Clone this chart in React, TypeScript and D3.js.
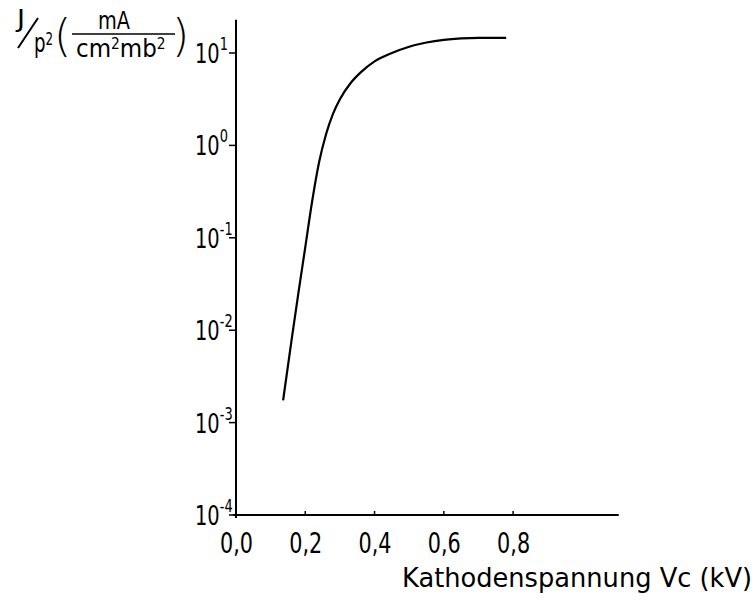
import React from "react";
import * as d3 from "d3";

// Kathodenspannung Vc (kV)
const voltage = [0.136, 0.16, 0.18, 0.2, 0.22, 0.24, 0.26, 0.28, 0.3, 0.33, 0.36, 0.4, 0.45, 0.5, 0.55, 0.6, 0.65, 0.7, 0.78];
// J/p^2 (mA / cm^2 mb^2)
const current = [0.00174, 0.0076, 0.025, 0.079, 0.25, 0.66, 1.32, 2.19, 3.16, 4.68, 6.17, 8.13, 10.0, 11.7, 13.0, 13.9, 14.4, 14.6, 14.6];

const xTicks = [0, 0.2, 0.4, 0.6, 0.8];
const xTickLabels = ["0,0", "0,2", "0,4", "0,6", "0,8"];
const yExponents = [1, 0, -1, -2, -3, -4];

const W = 756;
const H = 603;
const FONT = "'DejaVu Sans', 'Liberation Sans', sans-serif";

export default function App() {
  const x = d3.scaleLinear().domain([0, 1.1]).range([236, 617]);
  const y = d3.scaleLog().domain([1e-4, 10]).range([515, 53]);
  const yTop = y(10 ** 1.36);
  const xEnd = x(1.105);

  const pts: [number, number][] = voltage.map((v, i) => [v, current[i]]);
  const line = d3
    .line<[number, number]>()
    .x((d) => x(d[0]))
    .y((d) => y(d[1]))
    .curve(d3.curveMonotoneX);

  return (
    <svg
      width={W}
      height={H}
      viewBox={`0 0 ${W} ${H}`}
      style={{ position: "absolute", left: 0, top: 0, background: "#fff" }}
    >
      <rect x={0} y={0} width={W} height={H} fill="#fff" />
      {/* axes */}
      <line x1={x(0)} y1={yTop} x2={x(0)} y2={y(1e-4) + 3} stroke="#000" strokeWidth={2} />
      <line x1={x(0) - 3} y1={y(1e-4)} x2={xEnd} y2={y(1e-4)} stroke="#000" strokeWidth={2} />

      {/* y ticks */}
      {yExponents.map((e) => {
        const yy = y(10 ** e);
        return (
          <g key={e}>
            <line x1={x(0) - 7} x2={x(0) + 1} y1={yy} y2={yy} stroke="#000" strokeWidth={1.5} />
            <text
              transform={`translate(195,${yy + 10}) scale(0.72,1)`}
              fontFamily={FONT}
              fill="#000"
            >
              <tspan fontSize={27}>10</tspan>
              <tspan fontSize={18} dy={-13}>
                {e < 0 ? `-${-e}` : String(e)}
              </tspan>
            </text>
          </g>
        );
      })}

      {/* x ticks */}
      {xTicks.map((t, i) => (
        <g key={t}>
          <line x1={x(t)} x2={x(t)} y1={y(1e-4) - 4} y2={y(1e-4)} stroke="#000" strokeWidth={1.5} />
          <text
            x={x(t) - 16}
            y={553}
            fontFamily={FONT}
            fontSize={28}
            textLength={33}
            lengthAdjust="spacingAndGlyphs"
            fill="#000"
          >
            {xTickLabels[i]}
          </text>
        </g>
      ))}

      {/* curve */}
      <path d={line(pts) || ""} fill="none" stroke="#000" strokeWidth={2.2} />

      {/* x-axis title */}
      <text
        x={402}
        y={587}
        fontFamily={FONT}
        fontSize={26}
        textLength={350}
        lengthAdjust="spacingAndGlyphs"
        fill="#000"
      >
        Kathodenspannung Vc (kV)
      </text>

      {/* y-axis title: J / p² ( mA / cm² mb² ) */}
      <g fontFamily={FONT} fill="#000">
        <text x={17} y={27} fontSize={24} textLength={8} lengthAdjust="spacingAndGlyphs">J</text>
        <line x1={18} y1={48} x2={38} y2={18} stroke="#000" strokeWidth={2} />
        <text transform="translate(34,52) scale(0.7,1)" fontFamily={FONT}>
          <tspan fontSize={26}>p</tspan>
          <tspan fontSize={17} dy={-7}>2</tspan>
        </text>
        <text x={54} y={51} fontSize={44} fontWeight={200}>(</text>
        <text x={98} y={29} fontSize={24} textLength={32} lengthAdjust="spacingAndGlyphs">mA</text>
        <line x1={72} y1={34} x2={175} y2={34} stroke="#000" strokeWidth={1.5} />
        <text transform="translate(76,57) scale(0.92,1)" fontFamily={FONT}>
          <tspan fontSize={25}>cm</tspan>
          <tspan fontSize={15} dy={-8}>2</tspan>
          <tspan fontSize={25} dy={8}>mb</tspan>
          <tspan fontSize={15} dy={-8}>2</tspan>
        </text>
        <text x={172} y={51} fontSize={44} fontWeight={200}>)</text>
      </g>
    </svg>
  );
}
